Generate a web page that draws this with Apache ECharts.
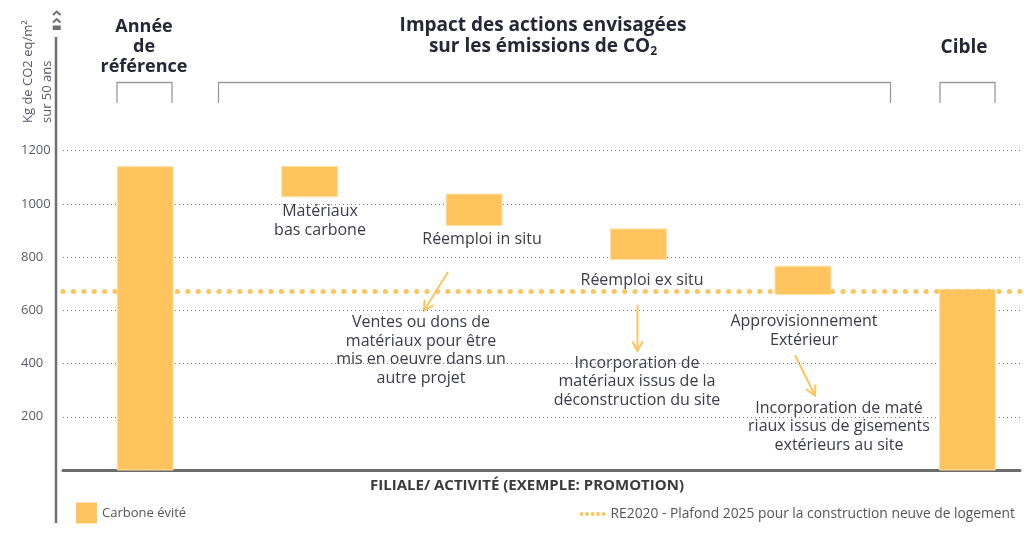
<!DOCTYPE html>
<html><head><meta charset="utf-8">
<script src="https://cdn.jsdelivr.net/npm/echarts@6/dist/echarts.min.js"></script>
<style>html,body{margin:0;padding:0;background:#fff}#c{width:1024px;height:534px}</style>
</head><body><div id="c"></div>
<script>
// ---- data ----
const categories = ['Année de référence','Matériaux bas carbone','Réemploi in situ','Réemploi ex situ','Approvisionnement Extérieur','Cible'];
const barLow  = [0, 1027, 919, 791, 660, 0];
const barHigh = [1140, 1141, 1037, 906, 766, 679];
const threshold = 670;
const yTicks = [200, 400, 600, 800, 1000, 1200];
const seriesBarName = 'Carbone évité';
const seriesLineName = 'RE2020 - Plafond 2025 pour la construction neuve de logement';

const ORANGE = '#FFC45E';
const TXT = '#3b3b4b';
const HEAD = '#262636';

const chart = echarts.init(document.getElementById('c'), null, {renderer:'canvas'});

function arrow(x1,y1,x2,y2){
  const a = Math.atan2(y2-y1, x2-x1), L = 11, s = 0.5;
  const p1 = [x2 - L*Math.cos(a - s), y2 - L*Math.sin(a - s)];
  const p2 = [x2 - L*Math.cos(a + s), y2 - L*Math.sin(a + s)];
  return [
    {type:'line', shape:{x1,y1,x2,y2}, style:{stroke:ORANGE, lineWidth:2}},
    {type:'polyline', shape:{points:[p1,[x2,y2],p2]}, style:{stroke:ORANGE, lineWidth:2, fill:null}}
  ];
}
function txt(text,x,y,font,fill,lh,extra){
  return Object.assign({type:'text', style:{text, x, y, font, fill, align:'center', verticalAlign:'middle', lineHeight:lh||18}}, extra||{});
}
function bracket(x1,x2){
  return {type:'polyline', shape:{points:[[x1,103],[x1,82.5],[x2,82.5],[x2,103]]}, style:{stroke:'#9a9a9a', lineWidth:1.3, fill:null}};
}

const F15 = '16px "Open Sans"';
const graphics = [
  // y axis long line + icon
  {type:'line', shape:{x1:56,y1:37,x2:56,y2:523}, style:{stroke:'#6f6f6f', lineWidth:2.5}},
  {type:'polyline', shape:{points:[[53,15],[56.7,11.5],[60.5,15]]}, style:{stroke:'#6f6f6f', lineWidth:2, fill:null}},
  {type:'polyline', shape:{points:[[53,22.5],[56.7,19],[60.5,22.5]]}, style:{stroke:'#6f6f6f', lineWidth:2, fill:null}},
  {type:'rect', shape:{x:52.7,y:25.5,width:8,height:4.5}, style:{fill:'#6f6f6f'}},
  // y axis name
  {type:'text', x:28, y:123, rotation:Math.PI/2, style:{text:'Kg de CO2 eq/m²', x:0, y:0, font:'13px "Open Sans"', fill:'#5a5a6a', align:'left', verticalAlign:'middle'}},
  {type:'text', x:47, y:123, rotation:Math.PI/2, style:{text:'sur 50 ans', x:0, y:0, font:'13px "Open Sans"', fill:'#5a5a6a', align:'left', verticalAlign:'middle'}},
  // headers
  txt('Année\nde\nréférence', 144, 47, 'bold 18px "Open Sans"', HEAD, 20),
  txt('Impact des actions envisagées', 543, 26, 'bold 19px "Open Sans"', HEAD, 21),
  {type:'text', style:{x:543, y:47, text:'{a|sur les émissions de CO}{s|2}', align:'center', verticalAlign:'middle',
     rich:{a:{font:'bold 19px "Open Sans"', fill:HEAD}, s:{font:'bold 12px "Open Sans"', fill:HEAD, padding:[10,0,0,0]}}}},
  txt('Cible', 964, 48, 'bold 19px "Open Sans"', HEAD, 21),
  bracket(117, 172), bracket(218.5, 890.5), bracket(940, 995),
  // category labels
  txt('Matériaux\nbas carbone', 320, 221, F15, TXT, 18.5),
  txt('Réemploi in situ', 482, 239, F15, TXT),
  txt('Réemploi ex situ', 642, 280, F15, TXT),
  txt('Approvisionnement\nExtérieur', 804, 331, F15, TXT, 18.5),
  // annotations
  txt('Ventes ou dons de\nmatériaux pour être\nmis en oeuvre dans un\nautre projet', 421, 350.5, F15, TXT, 18.5),
  txt('Incorporation de\nmatériaux issus de la\ndéconstruction du site', 637, 381.5, F15, TXT, 18.5),
  txt('Incorporation de maté\nriaux issus de gisements\nextérieurs au site', 839, 426.5, F15, TXT, 18.5),
  ...arrow(448, 272, 424, 310.5),
  ...arrow(637.5, 305, 637.5, 351),
  ...arrow(795, 355, 815, 395.5),
  // x axis title
  txt('FILIALE/ ACTIVITÉ (EXEMPLE: PROMOTION)', 527, 486, 'bold 15px "Open Sans"', '#3a3a3a', 16)
];

const option = {
  animation:false,
  backgroundColor:'#fff',
  grid:{left:63, right:4, top:150.7, bottom:64},
  xAxis:{type:'value', min:-0.5, max:5.32, show:true,
    axisLine:{show:true, onZero:true, lineStyle:{color:'#6b6b6b', width:3}},
    axisTick:{show:false}, axisLabel:{show:false}, splitLine:{show:false}},
  yAxis:{type:'value', min:0, max:1200, interval:200,
    axisLine:{show:false}, axisTick:{show:false},
    axisLabel:{margin:10,
      formatter:v => yTicks.indexOf(v) >= 0 ? '{a|' + v + '}' : '',
      rich:{a:{width:32, align:'left', color:'#5a5a6a', fontSize:13, fontFamily:'Open Sans'}}},
    splitLine:{show:true, lineStyle:{color:'#7a7a7a', width:1, type:[1,3]}}},
  legend:[
    {data:[{name:seriesBarName, icon:'rect'}], left:76, top:502.5, padding:0, itemWidth:21, itemHeight:21, itemGap:5,
     textStyle:{fontSize:13, color:'#555', fontFamily:'Open Sans'}, selectedMode:false},
    {data:[{name:seriesLineName, icon:'path://M0,2a2,2 0 1,0 4,0a2,2 0 1,0 -4,0M5.5,2a2,2 0 1,0 4,0a2,2 0 1,0 -4,0M11,2a2,2 0 1,0 4,0a2,2 0 1,0 -4,0M16.5,2a2,2 0 1,0 4,0a2,2 0 1,0 -4,0M22,2a2,2 0 1,0 4,0a2,2 0 1,0 -4,0'}],
     right:9, top:507, padding:0, itemWidth:26, itemHeight:5, textStyle:{fontSize:13.8, color:'#555', fontFamily:'Open Sans'}, selectedMode:false}
  ],
  series:[
    {name:seriesLineName, type:'line', data:[], z:1, itemStyle:{color:ORANGE}, lineStyle:{color:ORANGE},
     markLine:{silent:true, symbol:'none', label:{show:false},
       lineStyle:{color:ORANGE, width:5, type:[0.1,10.3], cap:'round'},
       data:[{yAxis:threshold}]}},
    {name:seriesBarName, type:'custom', z:3, itemStyle:{color:ORANGE},
     data: categories.map((c,i) => [i, barLow[i], barHigh[i]]),
     renderItem:(params, api) => {
       const x = api.value(0), lo = api.value(1), hi = api.value(2);
       const pt = api.coord([x, hi]), pb = api.coord([x, lo]);
       const w = api.size([1,0])[0]*0.34;
       return {type:'rect', shape:{x:pt[0]-w/2, y:pt[1], width:w, height:pb[1]-pt[1]},
               style:{fill:ORANGE, stroke:'#FFE1A8', lineWidth:1}};
     }}
  ],
  graphic:graphics
};
chart.setOption(option);
</script></body></html>
